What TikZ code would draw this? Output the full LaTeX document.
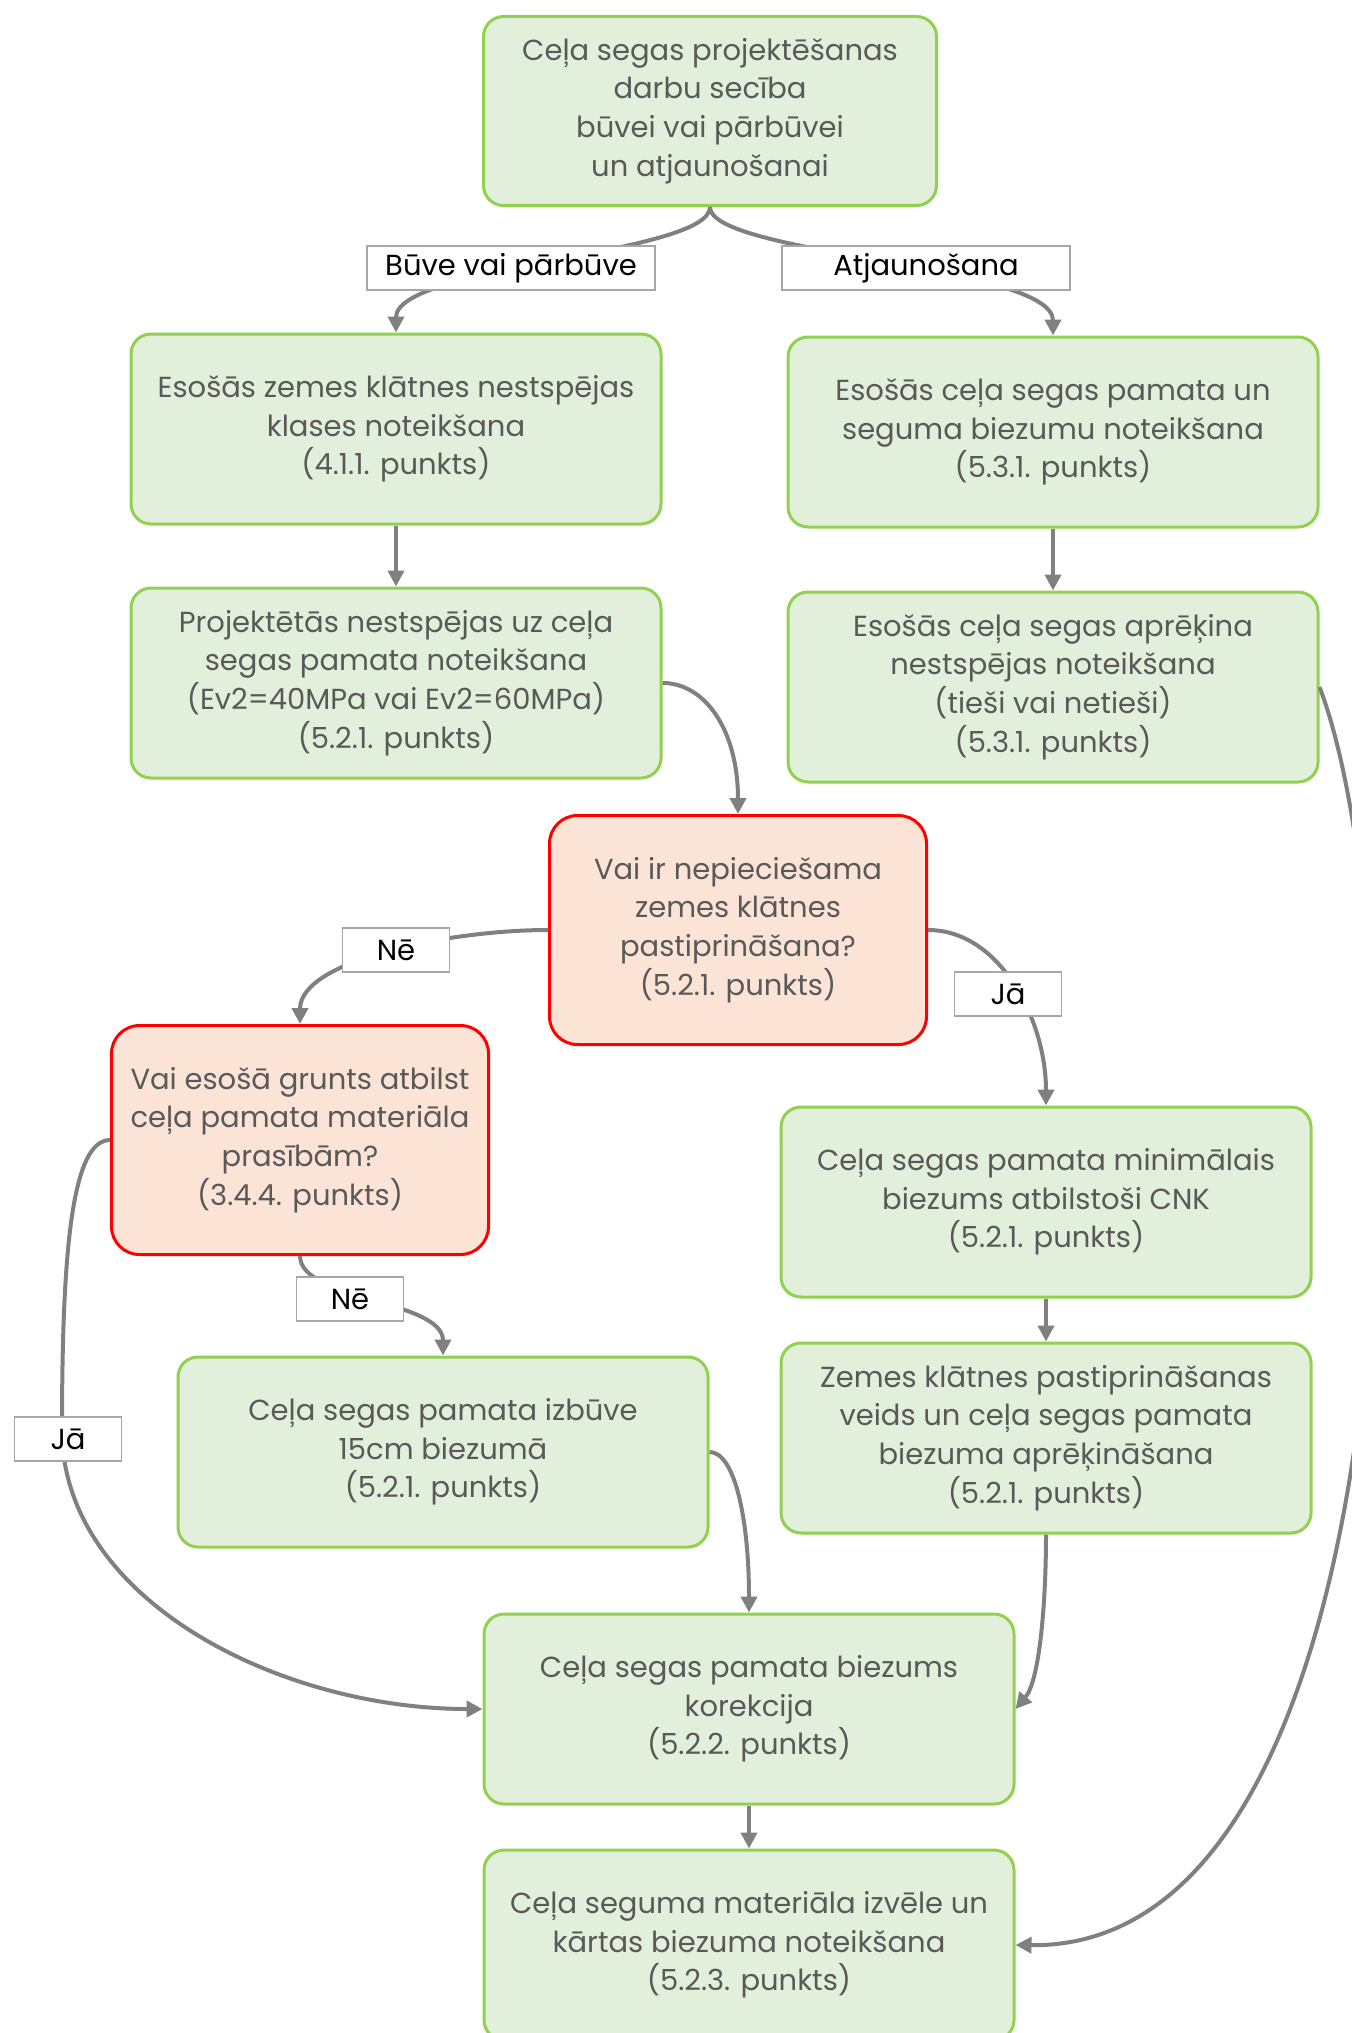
\documentclass[tikz,border=0pt]{standalone}
\usepackage{fontspec}
\setmainfont{Poppins}
\usetikzlibrary{arrows.meta}
\definecolor{boxfill}{HTML}{E2EFDA}
\definecolor{boxline}{HTML}{92D050}
\definecolor{decfill}{HTML}{FBE4D6}
\definecolor{decline}{HTML}{FF0000}
\definecolor{txtgray}{HTML}{595959}
\definecolor{conngray}{HTML}{808080}
\definecolor{lblline}{HTML}{A6A6A6}
\tikzset{
  proc/.style={draw=boxline, fill=boxfill, line width=1.5pt, rounded corners=10pt,
    minimum width=265pt, minimum height=95pt, align=center, text=txtgray,
    font=\fontsize{14.5}{19.3}\selectfont, inner sep=0pt},
  dec/.style={proc, draw=decline, fill=decfill, rounded corners=14pt,
    minimum width=188.5pt, minimum height=114.5pt},
  lbl/.style={draw=lblline, fill=white, line width=0.8pt, minimum height=22pt,
    inner sep=0pt, font=\fontsize{14.5}{16}\selectfont, text=black},
  arr/.style={draw=conngray, line width=2pt, -{Triangle[length=8pt,width=8pt]}}
}
\begin{document}
\begin{tikzpicture}[x=0.5pt,y=-0.5pt]
\fill[white] (0,0) rectangle (1351,2033);
\useasboundingbox (0,0) rectangle (1351,2033);
% nodes
\node[proc, minimum width=226.5pt, minimum height=94.5pt] (top) at (710,111)
  {Ceļa segas projektēšanas\\darbu secība\\būvei vai pārbūvei\\un atjaunošanai};
\node[proc] (A) at (396,429) {Esošās zemes klātnes nestspējas\\klases noteikšana\\(4.1.1. punkts)};
\node[proc] (B) at (396,683) {Projektētās nestspējas uz ceļa\\segas pamata noteikšana\\(Ev2=40MPa vai Ev2=60MPa)\\(5.2.1. punkts)};
\node[proc] (C) at (1053,432) {Esošās ceļa segas pamata un\\seguma biezumu noteikšana\\(5.3.1. punkts)};
\node[proc] (D) at (1053,687) {Esošās ceļa segas aprēķina\\nestspējas noteikšana\\(tieši vai netieši)\\(5.3.1. punkts)};
\node[dec] (Q1) at (738,930) {Vai ir nepieciešama\\zemes klātnes\\pastiprināšana?\\(5.2.1. punkts)};
\node[dec] (Q2) at (300,1140) {Vai esošā grunts atbilst\\ceļa pamata materiāla\\prasībām?\\(3.4.4. punkts)};
\node[proc] (E) at (1046,1202) {Ceļa segas pamata minimālais\\biezums atbilstoši CNK\\(5.2.1. punkts)};
\node[proc] (F) at (1046,1438) {Zemes klātnes pastiprināšanas\\veids un ceļa segas pamata\\biezuma aprēķināšana\\(5.2.1. punkts)};
\node[proc] (G) at (443,1452) {Ceļa segas pamata izbūve\\15cm biezumā\\(5.2.1. punkts)};
\node[proc] (H) at (749,1709) {Ceļa segas pamata biezums\\korekcija\\(5.2.2. punkts)};
\node[proc] (I) at (749,1945) {Ceļa seguma materiāla izvēle un\\kārtas biezuma noteikšana\\(5.2.3. punkts)};
% connectors
\draw[arr] (top.south) .. controls (710,255) and (396,265) .. (A.north);
\draw[arr] (top.south) .. controls (710,255) and (1053,265) .. (C.north);
\draw[arr] (A.south) -- (B.north);
\draw[arr] (C.south) -- (D.north);
\draw[arr] (B.east) .. controls (705,683) and (738,730) .. (Q1.north);
\draw[arr] (D.east) .. controls (1420,950) and (1420,1950) .. (I.east);
\draw[arr] (Q1.west) .. controls (450,930) and (300,960) .. (Q2.north);
\draw[arr] (Q1.east) .. controls (1000,930) and (1046,1020) .. (E.north);
\draw[arr] (Q2.south) .. controls (300,1300) and (443,1300) .. (G.north);
\draw[arr] (Q2.west) .. controls (72,1140) and (62,1250) .. (62,1430) .. controls (62,1600) and (280,1709) .. (H.west);
\draw[arr] (G.east) .. controls (735,1452) and (749,1520) .. (H.north);
\draw[arr] (E.south) -- (F.north);
\draw[arr] (F.south) .. controls (1046,1600) and (1040,1680) .. (H.east);
\draw[arr] (H.south) -- (I.north);
% labels
\node[lbl, minimum width=144pt] (l1) at (511,268) {Būve vai pārbūve};
\node[lbl, minimum width=144pt] (l2) at (926,268) {Atjaunošana};
\node[lbl, minimum width=53.5pt] (l3) at (396,950) {Nē};
\node[lbl, minimum width=53.5pt] (l4) at (1008,994) {Jā};
\node[lbl, minimum width=53.5pt] (l5) at (350,1299) {Nē};
\node[lbl, minimum width=53.5pt] (l6) at (68,1439) {Jā};
\end{tikzpicture}
\end{document}
